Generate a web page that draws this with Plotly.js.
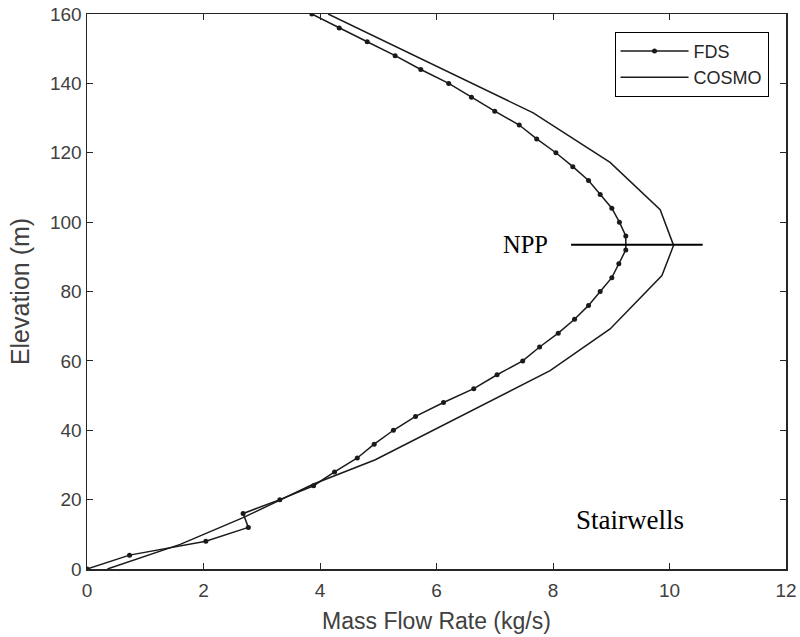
<!DOCTYPE html>
<html>
<head>
<meta charset="utf-8">
<script src="https://cdn.plot.ly/plotly-3.0.1.min.js"></script>
<style>html,body{margin:0;padding:0;background:#fff;}#chart{width:800px;height:637px;}</style>
</head>
<body>
<div id="chart"></div>
<script>
// FDS series (elevation every 4 m)
const fdsElevation = [0,4,8,12,16,20,24,28,32,36,40,44,48,52,56,60,64,68,72,76,80,84,88,92,96,100,104,108,112,116,120,124,128,132,136,140,144,148,152,156,160];
const fdsFlow = [0,0.73,2.04,2.77,2.68,3.31,3.89,4.25,4.64,4.93,5.26,5.64,6.12,6.64,7.04,7.48,7.77,8.09,8.37,8.61,8.81,9.01,9.13,9.25,9.25,9.14,9.01,8.81,8.61,8.34,8.05,7.72,7.42,7.0,6.60,6.21,5.73,5.29,4.81,4.33,3.86];
// COSMO series
const cosmoElevation = [0,7.1,14.8,24.5,31.5,57.2,69.2,84.6,93.3,103.6,117.2,131.5,160];
const cosmoFlow = [0.35,1.6,2.68,3.89,4.95,7.95,8.98,9.87,10.07,9.84,8.98,7.66,4.14];
// Neutral pressure plane marker
const nppFlow = [8.31,10.57];
const nppElevation = [93.5,93.5];
const xTicks = [0,2,4,6,8,10,12];
const yTicks = [0,20,40,60,80,100,120,140,160];

const axisColor = '#262626';
const traces = [
  {x: fdsFlow, y: fdsElevation, name: 'FDS', mode: 'lines+markers', type: 'scatter',
   line: {color: '#1a1a1a', width: 1.5}, marker: {color: '#1a1a1a', size: 5}},
  {x: cosmoFlow, y: cosmoElevation, name: 'COSMO', mode: 'lines', type: 'scatter',
   line: {color: '#1a1a1a', width: 1.5}},
  {x: nppFlow, y: nppElevation, mode: 'lines', type: 'scatter', showlegend: false,
   line: {color: '#000', width: 2}, hoverinfo: 'skip'}
];
const tickFont = {family: 'Liberation Sans, Arial, sans-serif', size: 19, color: '#404040'};
const layout = {
  width: 800, height: 637,
  margin: {l: 87, r: 14, t: 14, b: 68},
  paper_bgcolor: '#fff', plot_bgcolor: '#fff',
  showlegend: true,
  legend: {x: 0.975, y: 0.968, xanchor: 'right', yanchor: 'top', bgcolor: '#fff',
           bordercolor: '#000', borderwidth: 1, itemwidth: 68, tracegroupgap: 0,
           font: {family: 'Liberation Sans, Arial, sans-serif', size: 18, color: '#262626'}},
  xaxis: {range: [0,12], tickvals: xTicks, ticks: 'inside', ticklen: 6, tickcolor: axisColor,
          showline: true, linecolor: axisColor, linewidth: 1.5, mirror: 'ticks', showgrid: false,
          zeroline: false, tickfont: tickFont, ticklabelstandoff: 4,
          title: {text: 'Mass Flow Rate (kg/s)', font: {family: 'Liberation Sans, Arial, sans-serif', size: 23, color: '#404040'}, standoff: 12}},
  yaxis: {range: [0,160], tickvals: yTicks, ticks: 'inside', ticklen: 6, tickcolor: axisColor,
          showline: true, linecolor: axisColor, linewidth: 1.5, mirror: 'ticks', showgrid: false,
          zeroline: false, tickfont: tickFont,
          title: {text: 'Elevation (m)', font: {family: 'Liberation Sans, Arial, sans-serif', size: 25, color: '#404040'}, standoff: 13}},
  annotations: [
    {x: 7.52, y: 93.5, xref: 'x', yref: 'y', text: 'NPP', showarrow: false,
     font: {family: 'Liberation Serif, Times New Roman, serif', size: 24.5, color: '#000'}},
    {x: 9.32, y: 14.2, xref: 'x', yref: 'y', text: 'Stairwells', showarrow: false,
     font: {family: 'Liberation Serif, Times New Roman, serif', size: 27, color: '#000'}}
  ]
};
Plotly.newPlot('chart', traces, layout, {displayModeBar: false, staticPlot: true});
</script>
</body>
</html>
